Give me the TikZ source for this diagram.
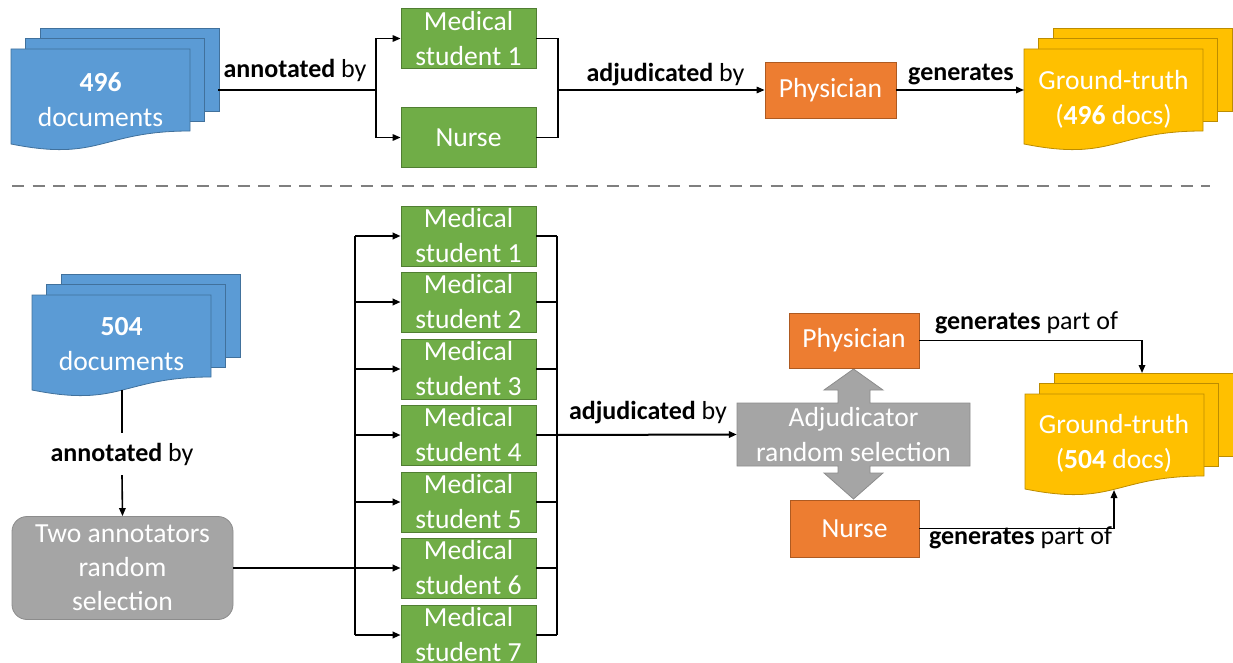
\documentclass[tikz,border=0pt]{standalone}
\usepackage{fontspec}
\setmainfont{Carlito}
\usetikzlibrary{arrows.meta}

\definecolor{docblue}{HTML}{5B9BD5}
\definecolor{docblueline}{HTML}{41719C}
\definecolor{gold}{HTML}{FFC000}
\definecolor{goldline}{HTML}{BC8C00}
\definecolor{msgreen}{HTML}{70AD47}
\definecolor{msgreenline}{HTML}{507E32}
\definecolor{docorange}{HTML}{ED7D31}
\definecolor{docorangeline}{HTML}{AE5A21}
\definecolor{selgrey}{HTML}{A5A5A5}
\definecolor{selgreyline}{HTML}{8C8C8C}
\definecolor{sepgrey}{HTML}{7F7F7F}

\newcommand\txtbig{\fontsize{27.6}{35}\selectfont}
\newcommand\txtlab{\fontsize{26}{31}\selectfont}

% a stack of three sheets: front sheet with wavy bottom edge
\newcommand\docstack[4]{%
  \begin{scope}[shift={(#1,#2)}]
    \filldraw[fill=#3,draw=#4,line width=0.8pt] (29,-21) rectangle ++(179,83);
    \filldraw[fill=#3,draw=#4,line width=0.8pt] (14.5,-10.5) rectangle ++(179,83);
    \filldraw[fill=#3,draw=#4,line width=0.8pt]
      (0,0) -- (179,0) -- (179,82) .. controls (89.5,82) and (89.5,113) .. (0,95) -- cycle;
  \end{scope}}

\begin{document}
\begin{tikzpicture}[x=1pt,y=-1pt,
  conn/.style={line width=1.6pt,draw=black},
  arr/.style={conn,-{Triangle[length=8pt,width=6.5pt]}},
  plainbox/.style={draw,line width=0.8pt,text=white,font=\txtbig,align=center,inner sep=0pt},
  msbox/.style={plainbox,fill=msgreen,draw=msgreenline,minimum width=135pt,minimum height=60pt},
  orbox/.style={plainbox,fill=docorange,draw=docorangeline},
  greybox/.style={plainbox,fill=selgrey,draw=selgreyline,rounded corners=15pt,font=\fontsize{27.6}{34}\selectfont},
  doctext/.style={font=\txtbig,text=white,align=center,inner sep=0pt},
  lbl/.style={font=\txtlab,inner sep=0pt,text=black},
  sepline/.style={draw=sepgrey,line width=2.5pt,dash pattern=on 12pt off 8.5pt}]

\useasboundingbox (0,0) rectangle (1233,663);

% ---------- first batch ----------
\docstack{11}{49}{docblue}{docblueline}
\node[doctext] (docs1) at (100.5,99.5) {\textbf{496}\\documents};
\coordinate (docs1-out) at (218,90);

\node[msbox] (ms0) at (468.5,38.5) {Medical\\student 1};
\node[msbox] (nurse1) at (468.5,137.5) {Nurse};

\coordinate (fork1) at (376,90);
\draw[conn] (docs1-out) -- (fork1);
\draw[arr] (fork1) |- (ms0.west);
\draw[arr] (fork1) |- (nurse1.west);
\node[lbl] (lab1) at (295,70) {\textbf{annotated} by};

\node[orbox,minimum width=131pt,minimum height=56pt] (phys1) at (830.5,90) {Physician};
\coordinate (join1) at (558,90);
\draw[conn] (ms0.east) -| (join1) |- (nurse1.east);
\draw[arr] (join1) -- (phys1.west);
\node[lbl] (lab2) at (665.5,75) {\textbf{adjudicated} by};

\docstack{1024}{49}{gold}{goldline}
\node[doctext] (gt1) at (1113.5,99.5) {Ground-truth\\(\textbf{496} docs)};
\coordinate (gt1-in) at (1024,90);
\draw[arr] (phys1.east) -- (gt1-in);
\node[lbl] (lab3) at (961,75) {\textbf{generates}};

% ---------- separator ----------
\coordinate (sepL) at (12,186);
\coordinate (sepR) at (1210,186);
\draw[sepline] (sepL) -- (sepR);

% ---------- second batch ----------
\docstack{32}{295}{docblue}{docblueline}
\node[doctext] (docs2) at (121.5,344.5) {\textbf{504}\\documents};
\coordinate (docs2-out) at (122,390);

\node[lbl,minimum height=42pt] (lab4) at (122,454) {\textbf{annotated} by};
\node[greybox,minimum width=221pt,minimum height=103pt] (two) at (122.5,568) {Two annotators\\random\\selection};
\draw[conn] (docs2-out) -- (lab4.north);
\draw[arr] (lab4.south) -- (two.north);

\foreach \i/\yy in {1/236,2/302,3/369,4/435,5/502,6/568,7/635}{
  \node[msbox] (ms\i) at (468.5,\yy) {Medical\\student \i};
}

\coordinate (fork2) at (355,568);
\draw[line width=2.6pt] (two.east) -- (fork2);
\draw[line width=2pt] (ms1.west -| fork2) -- (ms7.west -| fork2);
\foreach \i in {1,...,7}{
  \draw[arr,line width=2pt] (ms\i.west -| fork2) -- (ms\i.west);
}

\coordinate (join2) at (557,435);
\foreach \i in {1,...,7}{
  \draw[conn] (ms\i.east) -- (ms\i.east -| join2);
}
\draw[conn] (ms1.east -| join2) -- (ms7.east -| join2);

% adjudicator selection with its double arrow
\filldraw[fill=selgrey,draw=selgreyline,line width=0.8pt]
  (737,403) -- (838,403) -- (838,390) -- (824,390) -- (853.5,369) -- (883,390) -- (870,390)
  -- (870,403) -- (970,403) -- (970,466) -- (870,466) -- (870,473) -- (883,473)
  -- (853.5,499) -- (824,473) -- (838,473) -- (838,466) -- (737,466) -- cycle;
\node[doctext,minimum width=233pt,minimum height=63pt] (adj) at (853.5,434.5) {Adjudicator\\random selection};
\draw[arr,line width=2pt] (join2) -- (adj.west);
\node[lbl] (lab5) at (648,413) {\textbf{adjudicated} by};

\node[orbox,minimum width=130pt,minimum height=55pt] (phys2) at (854,340.5) {Physician};
\node[orbox,minimum width=129pt,minimum height=57pt] (nurse2) at (854.5,528.5) {Nurse};

\docstack{1025}{394}{gold}{goldline}
\node[doctext] (gt2) at (1114,443.5) {Ground-truth\\(\textbf{504} docs)};
\coordinate (gt2-top) at (1142,373);
\coordinate (gt2-bot) at (1114,490);
\draw[arr] (phys2.east) -| (gt2-top);
\draw[arr] (nurse2.east) -| (gt2-bot);
\node[lbl] (lab6) at (1026.5,323) {\textbf{generates} part of};
\node[lbl] (lab7) at (1020.5,538) {\textbf{generates} part of};

\end{tikzpicture}
\end{document}
